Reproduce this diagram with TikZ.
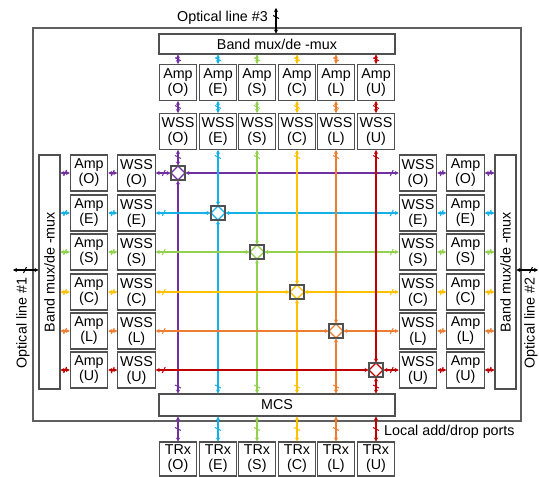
\documentclass[tikz,border=0pt]{standalone}
\usepackage{fontspec}
\setmainfont{Liberation Sans}
\usetikzlibrary{arrows.meta,decorations.markings}
\definecolor{cO}{RGB}{112,48,160}
\definecolor{cE}{RGB}{20,176,232}
\definecolor{cS}{RGB}{146,208,80}
\definecolor{cC}{RGB}{255,192,0}
\definecolor{cL}{RGB}{237,125,49}
\definecolor{cU}{RGB}{192,0,0}
\definecolor{boxgray}{RGB}{80,80,80}
\definecolor{framegray}{RGB}{95,95,95}
\begin{document}
\begin{tikzpicture}[x=1pt,y=-1pt,
  every node/.style={font=\fontsize{14.3}{15}\selectfont},
  box/.style={draw=boxgray, line width=1.05pt, minimum width=37.5pt, minimum height=36pt, inner sep=0pt, align=center},
  bar/.style={draw=boxgray, line width=1.05pt, inner sep=0pt, align=center},
  xbox/.style={draw=boxgray, line width=1.05pt, fill=white, minimum size=14pt, inner sep=0pt,
    path picture={\draw[#1, line width=1.3pt] (path picture bounding box.north) -- (path picture bounding box.east) -- (path picture bounding box.south) -- (path picture bounding box.west) -- cycle;}},
  conn/.style 2 args={draw=#1, line width=1.4pt, {Stealth[length=4pt,width=4.3pt]}-{Stealth[length=4pt,width=4.3pt]},
    postaction={decorate, decoration={markings, mark=at position #2 with {\draw[draw=#1, line width=1pt, arrows=-] (-1.5pt,-3pt) -- (1.5pt,3pt);}}}}
]
\useasboundingbox (0,0) rectangle (539,477);
% frame
\node[draw=framegray, line width=1.05pt, minimum width=488pt, minimum height=393pt, inner sep=0pt] (frame) at (277,224.5) {};
% bars
\node[bar, minimum width=236pt, minimum height=20pt] (tbm) at (277,44) {Band mux/de -mux};
\node[bar, minimum width=236pt, minimum height=22pt] (mcs) at (277,405) {MCS};
\node[bar, rotate=90, minimum width=234pt, minimum height=21pt] (lbm) at (49.5,272) {Band mux/de -mux};
\node[bar, rotate=90, minimum width=234pt, minimum height=21pt] (rbm) at (505.5,272) {Band mux/de -mux};
% labels
\node (ol3t) at (222.5,18) {Optical line \#3};
\node[rotate=90] (ol1t) at (23,323) {Optical line \#1};
\node[rotate=90] (ol2t) at (531,323) {Optical line \#2};
\node[anchor=west, inner sep=0pt] (lad) at (384,432) {Local add/drop ports};
% optical line arrows
\coordinate (ol3) at (276,8);
\coordinate (ol1) at (13,270);
\coordinate (ol2) at (538,270);
\draw[conn={black}{9pt}] (ol3) -- (ol3 |- tbm.north);
\draw[conn={black}{12pt}] (ol1) -- (ol1 -| lbm.north);
\draw[conn={black}{-7pt}] (ol2 -| rbm.south) -- (ol2);
% boxes
\foreach \cx/\ry/\c/\l in {178/173/cO/O,218/213/cE/E,257/252/cS/S,297/292/cC/C,336/331/cL/L,376/370/cU/U}{
  \node[box] (tamp\l) at (\cx,82.5) {Amp\\(\l)};
  \node[box] (twss\l) at (\cx,131.5) {WSS\\(\l)};
  \node[box, minimum height=34pt] (trx\l) at (\cx,459) {TRx\\(\l)};
  \node[box] (lamp\l) at (89,\ry) {Amp\\(\l)};
  \node[box] (lwss\l) at (136.5,\ry) {WSS\\(\l)};
  \node[box] (rwss\l) at (418,\ry) {WSS\\(\l)};
  \node[box] (ramp\l) at (465.5,\ry) {Amp\\(\l)};
  \node[xbox=\c] (x\l) at (\cx,\ry) {};
}
% connectors
\foreach \c/\l in {cO/O,cE/E,cS/S,cC/C,cL/L,cU/U}{
  \draw[conn={\c}{0.5}] (tbm.south -| tamp\l.north) -- (tamp\l.north);
  \draw[conn={\c}{0.5}] (tamp\l.south) -- (twss\l.north);
  \draw[conn={\c}{7pt}] (twss\l.south) -- (x\l.north);
  \draw[conn={\c}{-7pt}] (x\l.south) -- (x\l.south |- mcs.north);
  \draw[conn={\c}{0.5}] (mcs.south -| trx\l.north) -- (trx\l.north);
  \draw[conn={\c}{0.5}] (lbm.south |- lamp\l.west) -- (lamp\l.west);
  \draw[conn={\c}{0.5}] (lamp\l.east) -- (lwss\l.west);
  \draw[conn={\c}{8pt}] (lwss\l.east) -- (x\l.west);
  \draw[conn={\c}{-7pt}] (x\l.east) -- (rwss\l.west);
  \draw[conn={\c}{0.5}] (rwss\l.east) -- (ramp\l.west);
  \draw[conn={\c}{0.5}] (ramp\l.east) -- (rbm.north |- ramp\l.east);
}
\end{tikzpicture}
\end{document}
